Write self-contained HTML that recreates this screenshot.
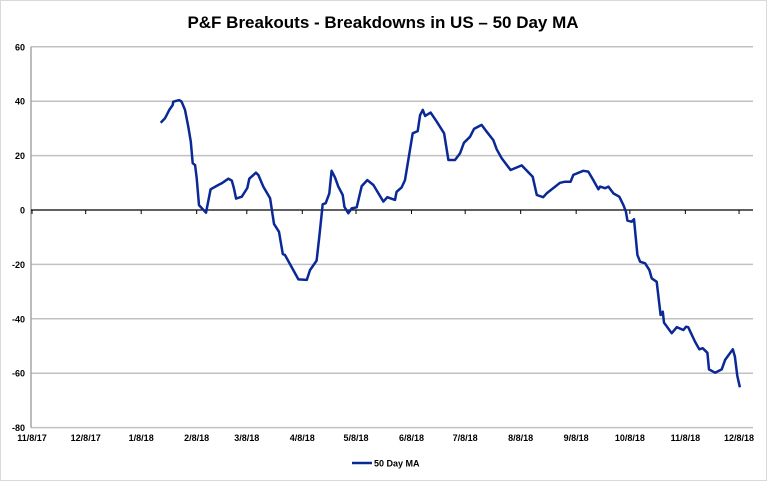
<!DOCTYPE html>
<html><head><meta charset="utf-8"><style>
html,body{margin:0;padding:0;background:#fff;}
svg{display:block;font-family:"Liberation Sans",Arial,sans-serif;}
</style></head><body>
<svg id="chart" width="767" height="481" viewBox="0 0 767 481" xmlns="http://www.w3.org/2000/svg">
<rect x="0.5" y="0.5" width="766" height="480" fill="#fff" stroke="#d9d9d9"/>
<text x="383" y="28" text-anchor="middle" font-size="17" font-weight="bold" fill="#000">P&amp;F Breakouts - Breakdowns in US – 50 Day MA</text>
<g id="grid"></g><g id="axes"></g><g id="series"></g>
<g>
<line x1="352" y1="463" x2="372" y2="463" stroke="#0a2896" stroke-width="2.5"/>
<text x="374" y="466.5" font-size="9" font-weight="bold" fill="#000">50 Day MA</text>
</g>
</svg>
<script>
const yTicks = [60, 40, 20, 0, -20, -40, -60, -80];
const xTickLabels = ["11/8/17","12/8/17","1/8/18","2/8/18","3/8/18","4/8/18","5/8/18","6/8/18","7/8/18","8/8/18","9/8/18","10/8/18","11/8/18","12/8/18"];
// days since 11/8/17
const days = [71.9,74.3,76.7,78.6,78.9,82.3,83.6,85.5,87.3,88.7,89.8,91.1,92,93.3,97.2,99.8,104.1,106,109.7,111.6,112.8,114,117.2,120.3,121.4,125.1,126.4,129.2,133,135.2,138,140.1,141.3,147.5,148.8,153.5,155.3,159,160.5,162.4,164.1,166.1,167.4,169.3,171.1,173.6,174.5,176.7,178.6,181.4,184.2,187.3,190.7,196.3,198.5,202.8,203.7,206.5,208.4,210.2,212.7,215.5,216.8,218.3,219.6,222.7,226.1,230.2,232.6,236.3,239.1,241.3,244.7,246.9,251.2,254,257.7,259.6,262.4,267.4,273.6,279.7,282,285.6,287.5,295,297.8,300.9,302.4,308,310.8,313.6,316.4,317.3,320.1,322,324.8,328.1,330.4,331.8,332.6,335,336.3,338.2,339.7,342.5,344.9,346.2,349,351.2,352.4,353.1,357.4,360.2,363.9,365.4,366.6,370.4,372.8,374.7,377.3,378.2,381.6,385.3,387.2,391.5,392.7,394,395.5];
const values = [32.1,33.7,36.8,38.6,39.8,40.4,39.8,36.8,30.6,25.1,17.2,16.5,11.7,1.8,-1.0,7.6,9.2,9.8,11.5,10.8,8.0,4.2,4.9,8.1,11.5,13.7,12.9,8.6,4.3,-5.1,-8.0,-16.2,-16.5,-23.9,-25.5,-25.7,-22.1,-18.6,-9.8,2.1,2.5,6.1,14.4,12.0,8.6,5.5,1.2,-1.2,0.6,1.0,8.8,11.0,9.2,3.1,4.7,3.7,6.7,8.3,11.0,18.4,28.2,29.0,34.9,36.8,34.6,35.8,32.5,28.2,18.4,18.4,20.8,24.7,26.9,29.8,31.3,28.8,25.7,22.3,19.0,14.7,16.4,12.2,5.5,4.7,6.1,10.0,10.4,10.4,12.9,14.4,14.1,11.0,7.6,8.6,8.0,8.6,6.1,4.9,1.8,-0.6,-3.9,-4.3,-3.4,-16.5,-19.0,-19.6,-22.1,-25.1,-26.4,-38.6,-37.4,-41.4,-45.3,-43.1,-44.1,-42.9,-43.1,-48.4,-51.2,-50.8,-52.5,-58.6,-59.8,-58.6,-55.1,-51.2,-53.9,-61.0,-65.2];

const NS = "http://www.w3.org/2000/svg";
const X0 = 32, PXD = 1.79, Y0 = 210, PXU = 2.72;
const xs = d => X0 + d * PXD;
const ys = v => Y0 - v * PXU;
function mk(tag, attrs, parent){const e=document.createElementNS(NS,tag);for(const k in attrs)e.setAttribute(k,attrs[k]);parent.appendChild(e);return e;}
const grid=document.getElementById('grid'), axes=document.getElementById('axes'), series=document.getElementById('series');
const xEnd = 753;
yTicks.forEach(v=>{
  if(v!==0){const l=mk('line',{x1:31,x2:xEnd,y1:ys(v),y2:ys(v),stroke:'#c0c0c0','stroke-width':1.5},grid);
  
  }
  const t=mk('text',{x:25,y:ys(v)+3.5,'text-anchor':'end','font-size':9,'font-weight':'bold',fill:'#000'},axes);
  t.textContent=v;
  
  
});
const ya=mk('line',{x1:31,x2:31,y1:ys(60),y2:ys(-80),stroke:'#a6a6a6','stroke-width':1.5},axes);


const za=mk('line',{x1:31,x2:xEnd,y1:Y0,y2:Y0,stroke:'#000','stroke-width':1.2},axes);


const base=Date.UTC(2017,10,8);
xTickLabels.forEach((lab,i)=>{
  const d=(Date.UTC(2017,10+i,8)-base)/86400000;
  const x=xs(d);
  const tk=mk('line',{x1:x,x2:x,y1:Y0,y2:Y0+4,stroke:'#000','stroke-width':1},axes);
  
  
  const t=mk('text',{x:x,y:441,'text-anchor':'middle','font-size':9,'font-weight':'bold',fill:'#000'},axes);
  t.textContent=lab;
  
  
});
const pts=days.map((d,i)=>xs(d).toFixed(1)+','+ys(values[i]).toFixed(1)).join(' ');
const pl=mk('polyline',{points:pts,fill:'none',stroke:'#0a2896','stroke-width':2.5,'stroke-linejoin':'round'},series);


</script>
</body></html>
